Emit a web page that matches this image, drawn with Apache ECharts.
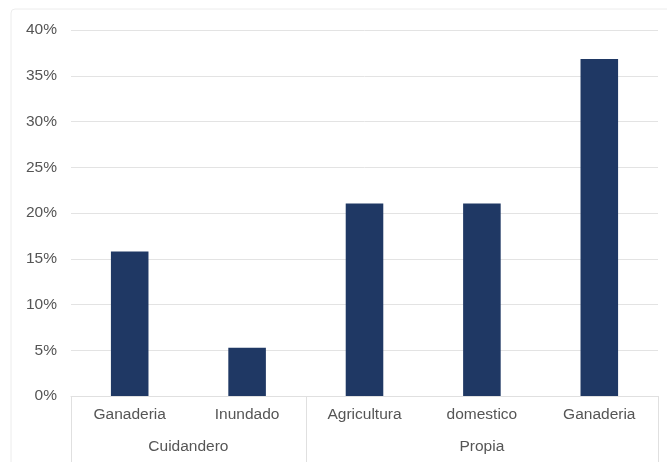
<!DOCTYPE html>
<html><head><meta charset="utf-8">
<script src="https://cdn.jsdelivr.net/npm/echarts@6/dist/echarts.min.js"></script>
<style>html,body{margin:0;padding:0;background:#fff}#c{width:667px;height:462px}</style>
</head><body><div id="c"></div>
<script>
const categories = ['Ganaderia', 'Inundado', 'Agricultura', 'domestico', 'Ganaderia'];
const values = [15.79, 5.26, 21.05, 21.05, 36.84];
const groups = ['Cuidandero', 'Propia'];
const groupSizes = [2, 3];
const yTicks = [0, 5, 10, 15, 20, 25, 30, 35, 40];

// group centers and boundaries in category units
const groupBounds = [0];
const groupCenters = [];
groupSizes.forEach(n => { const s = groupBounds[groupBounds.length - 1]; groupCenters.push(s + n / 2); groupBounds.push(s + n); });

const chart = echarts.init(document.getElementById('c'));
const font = 'Liberation Sans, Arial, sans-serif';
const fs = 15.5;
chart.setOption({
  animation: false,
  graphic: [{ type: 'rect', shape: { x: 11, y: 9, width: 660, height: 460, r: 4 }, style: { fill: 'none', stroke: '#ececec', lineWidth: 1 }, silent: true }],
  grid: { left: 71, right: 9, top: 30, bottom: 66 },
  xAxis: [{
    type: 'category', data: categories,
    axisLine: { lineStyle: { color: '#e0e0e0' } },
    axisTick: { show: false },
    axisLabel: { color: '#555555', fontSize: fs, fontFamily: font, margin: 11 }
  }, {
    type: 'value', min: 0, max: groupBounds[groupBounds.length - 1], position: 'bottom',
    axisLine: { show: false }, splitLine: { show: false },
    axisTick: { show: true, length: 66, customValues: groupBounds, lineStyle: { color: '#e0e0e0' } },
    axisLabel: { color: '#555555', fontSize: fs, fontFamily: font, margin: 43, customValues: groupCenters,
      formatter: v => groups[groupCenters.indexOf(v)] }
  }],
  yAxis: {
    type: 'value', min: 0, max: 40, interval: 5,
    axisLine: { show: false }, axisTick: { show: false },
    splitLine: { lineStyle: { color: '#e3e3e3' } },
    axisLabel: { color: '#555555', fontSize: fs, fontFamily: font, margin: 14, formatter: v => v + '%' }
  },
  series: [{ type: 'bar', data: values, barWidth: '32%', itemStyle: { color: '#1f3864' } }]
});
</script></body></html>
